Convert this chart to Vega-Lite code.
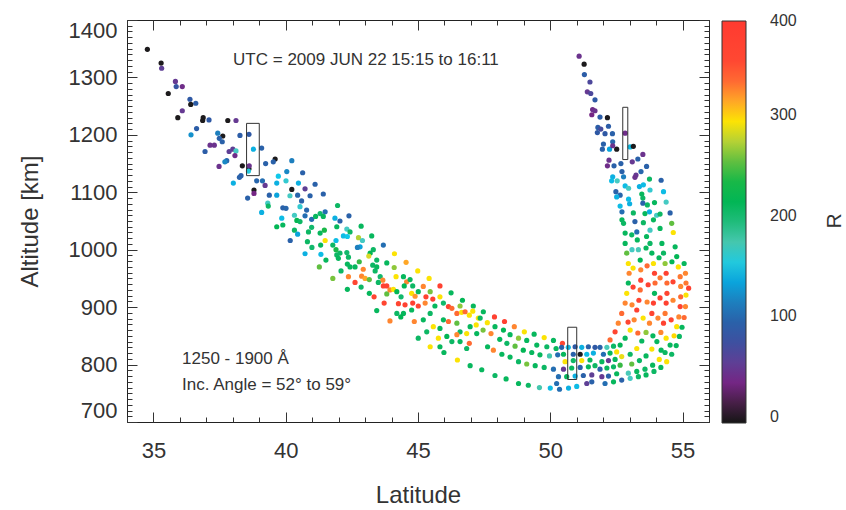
{
"$schema":"https://vega.github.io/schema/vega-lite/v6.json",
"width":582,"height":402,
"autosize":{"type":"none"},
"padding":{"left":127,"top":20,"right":137,"bottom":88},
"background":"white",
"config":{"font":"Liberation Sans","view":{"stroke":"#222","strokeWidth":1},
"axis":{"grid":false,"domain":false,"ticks":true,"tickColor":"#333","tickWidth":1,"tickOpacity":1,"labelColor":"#333","titleColor":"#333","titleFontWeight":"normal"}},
"datasets":{
"boxes":[{"lat0":38.52,"lat1":39.0,"alt0":1129,"alt1":1220},{"lat0":52.74,"lat1":52.93,"alt0":1157,"alt1":1248},{"lat0":50.66,"lat1":51.0,"alt0":774,"alt1":865}],
"notes":[{"lat":38.01,"alt":1330,"t":"UTC = 2009 JUN 22 15:15 to 16:11"},{"lat":36.08,"alt":810,"t":"1250 - 1900 Å"},{"lat":36.08,"alt":764,"t":"Inc. Angle = 52° to 59°"}],
"rlab":[{"lat":60.77,"alt":1050,"t":"R"}],
"pts":[
{"lat":34.77,"alt":1349,"R":5},{"lat":35.29,"alt":1325,"R":5},{"lat":35.31,"alt":1316,"R":60},{"lat":35.83,"alt":1293,"R":55},{"lat":35.86,"alt":1284,"R":85},{"lat":36.09,"alt":1284,"R":45},{"lat":35.56,"alt":1272,"R":5},{"lat":36.38,"alt":1262,"R":90},{"lat":36.6,"alt":1255,"R":95},{"lat":36.41,"alt":1253,"R":5},
{"lat":36.09,"alt":1242,"R":55},{"lat":35.92,"alt":1230,"R":5},{"lat":36.88,"alt":1230,"R":5},{"lat":37.1,"alt":1226,"R":90},{"lat":36.86,"alt":1225,"R":5},{"lat":37.81,"alt":1225,"R":5},{"lat":38.12,"alt":1225,"R":55},{"lat":36.63,"alt":1211,"R":95},{"lat":36.42,"alt":1200,"R":130},{"lat":37.43,"alt":1203,"R":120},
{"lat":37.62,"alt":1198,"R":5},{"lat":37.49,"alt":1194,"R":100},{"lat":38.27,"alt":1199,"R":95},{"lat":38.61,"alt":1201,"R":90},{"lat":37.14,"alt":1182,"R":50},{"lat":37.3,"alt":1182,"R":50},{"lat":37.6,"alt":1188,"R":100},{"lat":38.78,"alt":1175,"R":145},{"lat":39.09,"alt":1177,"R":100},{"lat":36.95,"alt":1171,"R":95},
{"lat":37.86,"alt":1171,"R":60},{"lat":38.0,"alt":1175,"R":60},{"lat":38.12,"alt":1172,"R":170},{"lat":38.08,"alt":1164,"R":45},{"lat":37.77,"alt":1155,"R":105},{"lat":37.7,"alt":1153,"R":125},{"lat":39.6,"alt":1158,"R":5},{"lat":39.53,"alt":1153,"R":100},{"lat":40.23,"alt":1155,"R":120},{"lat":39.24,"alt":1150,"R":100},
{"lat":37.48,"alt":1145,"R":50},{"lat":38.36,"alt":1146,"R":5},{"lat":38.61,"alt":1141,"R":5},{"lat":38.62,"alt":1146,"R":50},{"lat":38.59,"alt":1137,"R":160},{"lat":38.31,"alt":1129,"R":100},{"lat":38.25,"alt":1126,"R":100},{"lat":39.72,"alt":1128,"R":155},{"lat":40.04,"alt":1136,"R":125},{"lat":40.64,"alt":1134,"R":100},
{"lat":38.02,"alt":1116,"R":145},{"lat":38.9,"alt":1120,"R":105},{"lat":39.12,"alt":1120,"R":110},{"lat":39.22,"alt":1112,"R":55},{"lat":39.66,"alt":1116,"R":145},{"lat":40.01,"alt":1120,"R":165},{"lat":40.48,"alt":1116,"R":145},{"lat":41.11,"alt":1114,"R":100},{"lat":40.73,"alt":1106,"R":60},{"lat":40.23,"alt":1105,"R":5},
{"lat":38.8,"alt":1104,"R":5},{"lat":38.8,"alt":1098,"R":40},{"lat":38.56,"alt":1090,"R":100},{"lat":39.38,"alt":1095,"R":100},{"lat":39.66,"alt":1095,"R":140},{"lat":40.16,"alt":1094,"R":170},{"lat":40.45,"alt":1095,"R":105},{"lat":40.92,"alt":1094,"R":100},{"lat":41.42,"alt":1097,"R":100},{"lat":39.32,"alt":1081,"R":170},
{"lat":39.34,"alt":1076,"R":210},{"lat":39.09,"alt":1065,"R":145},{"lat":39.89,"alt":1073,"R":100},{"lat":40.01,"alt":1072,"R":105},{"lat":40.6,"alt":1085,"R":100},{"lat":40.33,"alt":1060,"R":170},{"lat":40.54,"alt":1075,"R":165},{"lat":40.79,"alt":1069,"R":105},{"lat":40.73,"alt":1059,"R":110},{"lat":39.85,"alt":1055,"R":150},
{"lat":39.66,"alt":1040,"R":220},{"lat":40.42,"alt":1051,"R":225},{"lat":40.54,"alt":1049,"R":210},{"lat":40.98,"alt":1053,"R":110},{"lat":41.13,"alt":1058,"R":215},{"lat":41.3,"alt":1063,"R":205},{"lat":41.49,"alt":1066,"R":110},{"lat":41.42,"alt":1058,"R":215},{"lat":39.89,"alt":1043,"R":215},{"lat":40.98,"alt":1039,"R":205},
{"lat":41.96,"alt":1077,"R":210},{"lat":42.39,"alt":1059,"R":100},{"lat":42.85,"alt":1041,"R":215},{"lat":41.86,"alt":1055,"R":145},{"lat":42.05,"alt":1050,"R":100},{"lat":41.93,"alt":1040,"R":215},{"lat":42.31,"alt":1036,"R":170},{"lat":42.43,"alt":1031,"R":210},{"lat":42.18,"alt":1024,"R":150},{"lat":42.33,"alt":1023,"R":155},
{"lat":42.75,"alt":1021,"R":280},{"lat":42.9,"alt":1016,"R":170},{"lat":43.25,"alt":1024,"R":215},{"lat":42.81,"alt":1005,"R":140},{"lat":42.71,"alt":1004,"R":120},{"lat":43.69,"alt":1008,"R":110},{"lat":43.31,"alt":1000,"R":210},{"lat":43.19,"alt":994,"R":220},{"lat":43.14,"alt":989,"R":290},{"lat":43.44,"alt":982,"R":210},
{"lat":43.82,"alt":977,"R":215},{"lat":44.11,"alt":993,"R":300},{"lat":44.55,"alt":978,"R":320},{"lat":44.99,"alt":963,"R":300},{"lat":45.42,"alt":950,"R":300},{"lat":45.83,"alt":937,"R":380},{"lat":46.25,"alt":925,"R":215},{"lat":46.68,"alt":912,"R":220},{"lat":47.09,"alt":902,"R":215},
{"lat":40.33,"alt":1034,"R":210},{"lat":40.17,"alt":1016,"R":100},{"lat":40.45,"alt":1027,"R":140},{"lat":40.86,"alt":1031,"R":210},{"lat":41.3,"alt":1029,"R":215},{"lat":41.46,"alt":1034,"R":240},{"lat":40.82,"alt":1014,"R":210},{"lat":40.99,"alt":1004,"R":205},{"lat":41.32,"alt":1008,"R":215},{"lat":41.49,"alt":1016,"R":300},
{"lat":41.9,"alt":1016,"R":150},{"lat":41.78,"alt":1008,"R":210},{"lat":40.73,"alt":993,"R":145},{"lat":41.33,"alt":992,"R":150},{"lat":41.52,"alt":982,"R":215},{"lat":41.93,"alt":991,"R":210},{"lat":41.99,"alt":985,"R":215},{"lat":42.05,"alt":994,"R":210},{"lat":41.9,"alt":1000,"R":240},{"lat":42.31,"alt":995,"R":205},
{"lat":42.37,"alt":987,"R":210},{"lat":42.43,"alt":970,"R":215},{"lat":41.27,"alt":970,"R":260},{"lat":41.78,"alt":950,"R":265},{"lat":42.09,"alt":963,"R":210},{"lat":42.33,"alt":975,"R":215},{"lat":42.62,"alt":970,"R":215},{"lat":42.78,"alt":979,"R":250},{"lat":42.93,"alt":966,"R":330},{"lat":42.37,"alt":953,"R":330},
{"lat":42.33,"alt":931,"R":215},{"lat":42.87,"alt":954,"R":330},{"lat":43.0,"alt":950,"R":320},{"lat":42.62,"alt":943,"R":370},{"lat":42.85,"alt":935,"R":210},{"lat":43.16,"alt":948,"R":260},{"lat":43.29,"alt":973,"R":210},{"lat":43.44,"alt":970,"R":215},{"lat":43.38,"alt":963,"R":210},{"lat":43.57,"alt":953,"R":205},
{"lat":43.67,"alt":947,"R":330},{"lat":43.82,"alt":937,"R":380},{"lat":43.69,"alt":937,"R":380},{"lat":43.5,"alt":943,"R":210},{"lat":43.16,"alt":924,"R":215},{"lat":43.34,"alt":918,"R":370},{"lat":43.44,"alt":894,"R":215},{"lat":43.72,"alt":907,"R":370},{"lat":43.82,"alt":923,"R":260},{"lat":43.94,"alt":930,"R":330},
{"lat":44.07,"alt":931,"R":300},{"lat":44.2,"alt":927,"R":220},{"lat":44.1,"alt":969,"R":270},{"lat":44.17,"alt":953,"R":300},{"lat":44.45,"alt":953,"R":215},{"lat":44.57,"alt":944,"R":330},{"lat":44.7,"alt":948,"R":215},{"lat":44.8,"alt":937,"R":210},{"lat":44.48,"alt":937,"R":220},{"lat":44.36,"alt":918,"R":205},
{"lat":44.26,"alt":906,"R":370},{"lat":44.51,"alt":904,"R":380},{"lat":44.76,"alt":924,"R":300},{"lat":44.89,"alt":919,"R":325},{"lat":45.01,"alt":927,"R":215},{"lat":45.2,"alt":936,"R":330},{"lat":45.46,"alt":927,"R":265},{"lat":45.83,"alt":918,"R":300},{"lat":45.56,"alt":914,"R":380},{"lat":45.3,"alt":918,"R":375},
{"lat":45.27,"alt":907,"R":330},{"lat":45.01,"alt":902,"R":370},{"lat":44.8,"alt":907,"R":380},{"lat":44.76,"alt":895,"R":215},{"lat":44.45,"alt":889,"R":215},{"lat":44.2,"alt":889,"R":210},{"lat":43.94,"alt":876,"R":330},{"lat":44.35,"alt":883,"R":220},{"lat":44.86,"alt":875,"R":330},{"lat":45.2,"alt":878,"R":215},
{"lat":45.46,"alt":889,"R":210},{"lat":45.64,"alt":902,"R":215},{"lat":45.96,"alt":907,"R":205},{"lat":46.15,"alt":901,"R":380},{"lat":46.28,"alt":898,"R":340},{"lat":46.47,"alt":889,"R":340},{"lat":46.65,"alt":891,"R":300},{"lat":46.78,"alt":892,"R":340},{"lat":46.59,"alt":902,"R":270},{"lat":47.07,"alt":893,"R":300},
{"lat":46.94,"alt":886,"R":300},{"lat":47.28,"alt":881,"R":300},{"lat":47.2,"alt":869,"R":300},{"lat":47.22,"alt":854,"R":215},{"lat":46.97,"alt":866,"R":215},{"lat":46.84,"alt":854,"R":300},{"lat":46.59,"alt":857,"R":210},{"lat":46.47,"alt":872,"R":260},{"lat":46.15,"alt":875,"R":340},{"lat":45.96,"alt":878,"R":215},
{"lat":45.83,"alt":863,"R":215},{"lat":45.58,"alt":866,"R":300},{"lat":45.33,"alt":857,"R":210},{"lat":45.77,"alt":846,"R":300},{"lat":46.09,"alt":849,"R":220},{"lat":46.28,"alt":840,"R":210},{"lat":46.47,"alt":852,"R":330},{"lat":46.59,"alt":840,"R":215},{"lat":46.94,"alt":837,"R":340},{"lat":45.01,"alt":846,"R":210},
{"lat":45.46,"alt":831,"R":300},{"lat":45.83,"alt":831,"R":215},{"lat":46.84,"alt":828,"R":210},
{"lat":47.47,"alt":892,"R":215},{"lat":47.89,"alt":883,"R":380},{"lat":48.27,"alt":875,"R":380},{"lat":48.64,"alt":866,"R":330},{"lat":49.02,"alt":857,"R":300},{"lat":49.39,"alt":853,"R":215},{"lat":49.77,"alt":847,"R":300},{"lat":50.12,"alt":842,"R":215},{"lat":50.46,"alt":837,"R":360},
{"lat":47.35,"alt":881,"R":210},{"lat":47.62,"alt":873,"R":300},{"lat":47.91,"alt":866,"R":215},{"lat":48.23,"alt":860,"R":220},{"lat":48.48,"alt":852,"R":215},{"lat":48.8,"alt":846,"R":270},{"lat":49.11,"alt":842,"R":215},{"lat":49.49,"alt":834,"R":215},{"lat":49.87,"alt":831,"R":210},{"lat":50.22,"alt":828,"R":215},
{"lat":47.46,"alt":860,"R":265},{"lat":47.76,"alt":854,"R":330},{"lat":48.09,"alt":844,"R":215},{"lat":48.36,"alt":837,"R":210},{"lat":48.67,"alt":832,"R":260},{"lat":48.98,"alt":825,"R":220},{"lat":49.3,"alt":821,"R":215},{"lat":49.61,"alt":817,"R":215},{"lat":49.97,"alt":815,"R":180},{"lat":50.28,"alt":817,"R":110},
{"lat":47.63,"alt":831,"R":215},{"lat":47.85,"alt":825,"R":330},{"lat":48.17,"alt":818,"R":215},{"lat":48.48,"alt":813,"R":215},{"lat":48.8,"alt":805,"R":210},{"lat":49.11,"alt":801,"R":265},{"lat":49.43,"alt":798,"R":215},{"lat":49.77,"alt":795,"R":210},{"lat":50.12,"alt":792,"R":110},
{"lat":46.97,"alt":798,"R":215},{"lat":47.41,"alt":791,"R":215},{"lat":47.91,"alt":781,"R":210},{"lat":48.33,"alt":775,"R":215},{"lat":48.8,"alt":767,"R":215},{"lat":49.17,"alt":764,"R":210},{"lat":49.59,"alt":760,"R":180},{"lat":50.0,"alt":759,"R":150},{"lat":50.35,"alt":757,"R":110},{"lat":50.69,"alt":759,"R":145},
{"lat":51.0,"alt":762,"R":150},{"lat":51.38,"alt":767,"R":60},{"lat":51.57,"alt":770,"R":100},{"lat":46.49,"alt":808,"R":300},{"lat":45.98,"alt":821,"R":215},{"lat":50.31,"alt":779,"R":110},{"lat":50.24,"alt":767,"R":110},
{"lat":50.43,"alt":830,"R":100},{"lat":50.68,"alt":830,"R":150},{"lat":50.94,"alt":831,"R":90},{"lat":51.19,"alt":830,"R":145},{"lat":51.44,"alt":831,"R":100},{"lat":51.69,"alt":830,"R":90},{"lat":50.5,"alt":818,"R":215},{"lat":50.87,"alt":818,"R":100},{"lat":51.13,"alt":818,"R":5},{"lat":51.38,"alt":818,"R":150},
{"lat":51.63,"alt":820,"R":145},{"lat":50.56,"alt":805,"R":300},{"lat":50.87,"alt":807,"R":210},{"lat":51.19,"alt":807,"R":300},{"lat":51.5,"alt":808,"R":215},{"lat":50.5,"alt":792,"R":55},{"lat":50.81,"alt":794,"R":215},{"lat":51.13,"alt":795,"R":100},{"lat":51.44,"alt":796,"R":215},{"lat":51.69,"alt":798,"R":210},
{"lat":50.62,"alt":779,"R":215},{"lat":50.94,"alt":780,"R":145},{"lat":51.25,"alt":781,"R":100},{"lat":51.57,"alt":782,"R":60},
{"lat":51.88,"alt":830,"R":100},{"lat":52.14,"alt":830,"R":175},{"lat":52.39,"alt":832,"R":210},{"lat":52.01,"alt":818,"R":110},{"lat":52.26,"alt":820,"R":215},{"lat":52.51,"alt":822,"R":300},{"lat":51.95,"alt":805,"R":215},{"lat":52.2,"alt":807,"R":55},{"lat":52.45,"alt":809,"R":215},{"lat":52.7,"alt":814,"R":295},
{"lat":51.88,"alt":792,"R":100},{"lat":52.14,"alt":794,"R":215},{"lat":52.39,"alt":796,"R":210},{"lat":52.64,"alt":799,"R":250},{"lat":51.95,"alt":779,"R":55},{"lat":52.2,"alt":780,"R":100},{"lat":52.51,"alt":784,"R":215},
{"lat":52.83,"alt":1011,"R":215},{"lat":52.89,"alt":994,"R":260},{"lat":52.95,"alt":976,"R":300},{"lat":52.98,"alt":959,"R":330},{"lat":52.95,"alt":942,"R":215},{"lat":52.89,"alt":924,"R":300},{"lat":52.83,"alt":907,"R":330},{"lat":52.7,"alt":889,"R":340},{"lat":52.57,"alt":872,"R":330},{"lat":52.45,"alt":857,"R":370},{"lat":52.26,"alt":843,"R":340},
{"lat":53.29,"alt":1017,"R":215},{"lat":53.33,"alt":1000,"R":175},{"lat":53.4,"alt":982,"R":220},{"lat":53.42,"alt":965,"R":330},{"lat":53.42,"alt":947,"R":370},{"lat":53.4,"alt":930,"R":340},{"lat":53.35,"alt":912,"R":375},{"lat":53.27,"alt":895,"R":380},{"lat":53.17,"alt":878,"R":330},{"lat":53.02,"alt":860,"R":300},{"lat":52.83,"alt":846,"R":215},{"lat":52.64,"alt":834,"R":220},
{"lat":53.77,"alt":1011,"R":210},{"lat":53.84,"alt":994,"R":215},{"lat":53.9,"alt":976,"R":300},{"lat":53.94,"alt":959,"R":375},{"lat":53.96,"alt":942,"R":340},{"lat":53.94,"alt":924,"R":215},{"lat":53.9,"alt":907,"R":380},{"lat":53.84,"alt":889,"R":370},{"lat":53.75,"alt":872,"R":330},{"lat":53.62,"alt":856,"R":270},{"lat":53.46,"alt":841,"R":215},{"lat":53.27,"alt":828,"R":300},{"lat":53.02,"alt":818,"R":210},
{"lat":54.22,"alt":1011,"R":215},{"lat":54.28,"alt":994,"R":210},{"lat":54.34,"alt":976,"R":270},{"lat":54.38,"alt":959,"R":380},{"lat":54.41,"alt":942,"R":340},{"lat":54.41,"alt":924,"R":370},{"lat":54.38,"alt":907,"R":380},{"lat":54.34,"alt":889,"R":335},{"lat":54.28,"alt":872,"R":375},{"lat":54.18,"alt":856,"R":330},{"lat":54.03,"alt":840,"R":215},{"lat":53.84,"alt":827,"R":300},{"lat":53.62,"alt":815,"R":215},{"lat":53.37,"alt":807,"R":210},{"lat":53.08,"alt":801,"R":260},
{"lat":54.72,"alt":1005,"R":215},{"lat":54.78,"alt":988,"R":220},{"lat":54.84,"alt":970,"R":300},{"lat":54.91,"alt":953,"R":335},{"lat":54.93,"alt":936,"R":330},{"lat":54.93,"alt":918,"R":340},{"lat":54.91,"alt":901,"R":375},{"lat":54.86,"alt":883,"R":330},{"lat":54.78,"alt":866,"R":300},{"lat":54.68,"alt":850,"R":305},{"lat":54.53,"alt":834,"R":215},{"lat":54.34,"alt":821,"R":210},{"lat":54.12,"alt":809,"R":300},{"lat":53.87,"alt":799,"R":215},{"lat":53.58,"alt":792,"R":210},{"lat":53.27,"alt":788,"R":215},{"lat":52.95,"alt":785,"R":175},
{"lat":55.06,"alt":976,"R":215},{"lat":55.11,"alt":959,"R":330},{"lat":55.13,"alt":942,"R":335},{"lat":55.13,"alt":921,"R":300},{"lat":55.11,"alt":901,"R":330},{"lat":55.06,"alt":882,"R":340},{"lat":54.98,"alt":865,"R":215},{"lat":54.88,"alt":849,"R":210},{"lat":54.76,"alt":833,"R":215},{"lat":54.59,"alt":818,"R":210},{"lat":54.4,"alt":805,"R":300},{"lat":54.18,"alt":795,"R":215},{"lat":53.92,"alt":788,"R":210},{"lat":53.62,"alt":782,"R":215},{"lat":53.33,"alt":779,"R":210},{"lat":53.02,"alt":776,"R":170},{"lat":52.7,"alt":773,"R":100},{"lat":52.39,"alt":770,"R":215},{"lat":52.07,"alt":767,"R":110},
{"lat":53.09,"alt":1000,"R":170},{"lat":53.13,"alt":968,"R":300},{"lat":53.13,"alt":935,"R":375},{"lat":53.09,"alt":904,"R":330},{"lat":52.94,"alt":874,"R":370},{"lat":53.62,"alt":1003,"R":215},{"lat":53.66,"alt":972,"R":340},{"lat":53.7,"alt":939,"R":380},{"lat":53.66,"alt":909,"R":330},{"lat":53.51,"alt":881,"R":300},{"lat":53.31,"alt":855,"R":340},
{"lat":54.11,"alt":986,"R":215},{"lat":54.15,"alt":951,"R":335},{"lat":54.15,"alt":916,"R":380},{"lat":54.07,"alt":881,"R":330},{"lat":53.88,"alt":850,"R":215},{"lat":54.6,"alt":979,"R":220},{"lat":54.64,"alt":944,"R":370},{"lat":54.64,"alt":912,"R":330},{"lat":54.57,"alt":878,"R":370},{"lat":54.38,"alt":846,"R":300},{"lat":54.19,"alt":825,"R":215},{"lat":55.23,"alt":933,"R":380},
{"lat":51.09,"alt":1337,"R":50},{"lat":51.28,"alt":1323,"R":5},{"lat":51.29,"alt":1305,"R":95},{"lat":51.5,"alt":1292,"R":70},{"lat":51.4,"alt":1275,"R":55},{"lat":51.53,"alt":1272,"R":70},{"lat":51.69,"alt":1261,"R":90},{"lat":51.6,"alt":1244,"R":45},{"lat":51.69,"alt":1242,"R":50},{"lat":51.57,"alt":1235,"R":40},
{"lat":51.88,"alt":1231,"R":95},{"lat":52.16,"alt":1230,"R":5},{"lat":51.8,"alt":1213,"R":95},{"lat":51.91,"alt":1210,"R":75},{"lat":52.2,"alt":1215,"R":95},{"lat":51.78,"alt":1204,"R":90},{"lat":52.07,"alt":1202,"R":90},{"lat":52.35,"alt":1202,"R":100},{"lat":52.36,"alt":1188,"R":105},{"lat":52.01,"alt":1184,"R":100},
{"lat":51.97,"alt":1175,"R":100},{"lat":52.24,"alt":1175,"R":140},{"lat":52.51,"alt":1175,"R":5},{"lat":52.36,"alt":1181,"R":50},{"lat":52.83,"alt":1203,"R":45},{"lat":53.02,"alt":1179,"R":150},{"lat":53.14,"alt":1180,"R":5},{"lat":53.5,"alt":1166,"R":50},{"lat":53.31,"alt":1158,"R":100},{"lat":53.1,"alt":1153,"R":55},
{"lat":52.22,"alt":1156,"R":50},{"lat":52.16,"alt":1146,"R":45},{"lat":52.41,"alt":1146,"R":100},{"lat":52.67,"alt":1150,"R":100},{"lat":52.71,"alt":1136,"R":100},{"lat":52.77,"alt":1127,"R":120},{"lat":53.43,"alt":1136,"R":105},{"lat":53.64,"alt":1145,"R":100},{"lat":53.24,"alt":1130,"R":55},{"lat":53.2,"alt":1126,"R":50},
{"lat":52.36,"alt":1127,"R":145},{"lat":52.32,"alt":1120,"R":150},{"lat":52.53,"alt":1120,"R":170},{"lat":52.83,"alt":1111,"R":150},{"lat":52.96,"alt":1107,"R":170},{"lat":53.37,"alt":1110,"R":145},{"lat":53.52,"alt":1113,"R":150},{"lat":53.75,"alt":1123,"R":210},{"lat":54.19,"alt":1121,"R":100},{"lat":52.48,"alt":1101,"R":100},
{"lat":52.64,"alt":1095,"R":105},{"lat":52.51,"alt":1092,"R":145},{"lat":52.96,"alt":1088,"R":150},{"lat":53.0,"alt":1080,"R":145},{"lat":53.46,"alt":1097,"R":215},{"lat":53.5,"alt":1090,"R":210},{"lat":53.5,"alt":1081,"R":100},{"lat":53.77,"alt":1104,"R":165},{"lat":53.94,"alt":1082,"R":215},{"lat":53.67,"alt":1078,"R":210},
{"lat":54.28,"alt":1101,"R":150},{"lat":54.38,"alt":1083,"R":170},{"lat":52.64,"alt":1076,"R":150},{"lat":52.71,"alt":1066,"R":110},{"lat":53.14,"alt":1064,"R":210},{"lat":53.58,"alt":1063,"R":215},{"lat":53.75,"alt":1066,"R":145},{"lat":54.02,"alt":1060,"R":170},{"lat":54.15,"alt":1062,"R":210},{"lat":54.53,"alt":1064,"R":100},
{"lat":53.9,"alt":1052,"R":215},{"lat":53.52,"alt":1047,"R":210},{"lat":53.2,"alt":1049,"R":100},{"lat":52.71,"alt":1052,"R":215},{"lat":52.77,"alt":1046,"R":210},{"lat":54.59,"alt":1046,"R":260},{"lat":54.65,"alt":1030,"R":300},{"lat":54.15,"alt":1037,"R":215},{"lat":53.77,"alt":1034,"R":170},{"lat":53.27,"alt":1031,"R":110},
{"lat":52.83,"alt":1029,"R":215},{"lat":53.08,"alt":1026,"R":210},{"lat":53.64,"alt":1023,"R":215}
]},
"layer":[
{"data":{"name":"pts"},
"mark":{"type":"circle","size":27,"opacity":1},
"encoding":{
"x":{"field":"lat","type":"quantitative","scale":{"domain":[34,56],"nice":false,"zero":false},
"axis":{"orient":"bottom","offset":-10,"ticks":true,"tickSize":10,"values":[35,40,45,50,55],"format":"d","labelFlush":false,"labelOverlap":false,"labelFontSize":22,"labelPadding":18,"title":"Latitude","titleFontSize":24,"titleBaseline":"middle","titleY":83}},
"y":{"field":"alt","type":"quantitative","scale":{"domain":[700,1400],"nice":false,"zero":false},
"axis":{"orient":"left","offset":-10,"ticks":true,"tickSize":10,"values":[700,800,900,1000,1100,1200,1300,1400],"format":"d","labelFlush":true,"labelOverlap":false,"labelFontSize":22,"labelPadding":10,"title":"Altitude [km]","titleFontSize":24,"titleBaseline":"middle","titleX":-107}},
"color":{"field":"R","type":"quantitative",
"scale":{"type":"linear","interpolate":"rgb","domain":[0,12,25,40,55,72,90,105,122,140,155,172,190,205,222,240,255,272,288,301,312,322,332,342,355,400],
"range":["#151515","#262026","#5c1f5c","#742684","#663a92","#4a4a9c","#2e58a4","#2866ac","#1c82c0","#0aa4dc","#10c8ea","#4ccabe","#3cc49a","#12b86c","#00b652","#18b848","#48ba42","#98ca3a","#d2d830","#ffe400","#ffc400","#ffa030","#ff8030","#ff6432","#ff4a32","#ff3a30"]},
"legend":{"orient":"none","legendX":595,"legendY":1,"direction":"vertical","gradientLength":402,"gradientThickness":24,"gradientStrokeColor":"#333","gradientStrokeWidth":1,"title":null,"values":[6,106,206,306,399.9],"labelExpr":"format(round(datum.value/100)*100,'d')","labelFontSize":16,"labelColor":"#333","labelOffset":24,"labelOverlap":false,"padding":0}}
}},
{"data":{"name":"boxes"},
"mark":{"type":"rect","fill":"transparent","stroke":"#333","strokeWidth":1},
"encoding":{
"x":{"field":"lat0","type":"quantitative","scale":{"domain":[34,56],"nice":false,"zero":false},
"axis":{"orient":"bottom","offset":-5,"ticks":true,"tickSize":5,"values":[34,35,36,37,38,39,40,41,42,43,44,45,46,47,48,49,50,51,52,53,54,55,56],"labels":false,"title":null}},
"x2":{"field":"lat1"},
"y":{"field":"alt0","type":"quantitative","scale":{"domain":[700,1400],"nice":false,"zero":false},
"axis":{"orient":"left","offset":-5,"ticks":true,"tickSize":5,"values":[700,710,720,730,740,750,760,770,780,790,800,810,820,830,840,850,860,870,880,890,900,910,920,930,940,950,960,970,980,990,1000,1010,1020,1030,1040,1050,1060,1070,1080,1090,1100,1110,1120,1130,1140,1150,1160,1170,1180,1190,1200,1210,1220,1230,1240,1250,1260,1270,1280,1290,1300,1310,1320,1330,1340,1350,1360,1370,1380,1390,1400],"labels":false,"title":null}},
"y2":{"field":"alt1"}
}},
{"data":{"name":"notes"},
"mark":{"type":"text","align":"left","baseline":"middle","fontSize":17,"color":"#333"},
"encoding":{
"x":{"field":"lat","type":"quantitative","scale":{"domain":[34,56],"nice":false,"zero":false},
"axis":{"orient":"top","offset":-10,"ticks":true,"tickSize":10,"values":[35,40,45,50,55],"labels":false,"title":null}},
"y":{"field":"alt","type":"quantitative","scale":{"domain":[700,1400],"nice":false,"zero":false},
"axis":{"orient":"right","offset":-10,"ticks":true,"tickSize":10,"values":[700,800,900,1000,1100,1200,1300,1400],"labels":false,"title":null}},
"text":{"field":"t"}
}},
{"data":{"name":"rlab"},
"mark":{"type":"text","align":"center","baseline":"middle","fontSize":21,"angle":270,"color":"#333"},
"encoding":{
"x":{"field":"lat","type":"quantitative","scale":{"domain":[34,56],"nice":false,"zero":false},
"axis":{"orient":"top","offset":-5,"ticks":true,"tickSize":5,"values":[34,35,36,37,38,39,40,41,42,43,44,45,46,47,48,49,50,51,52,53,54,55,56],"labels":false,"title":null}},
"y":{"field":"alt","type":"quantitative","scale":{"domain":[700,1400],"nice":false,"zero":false},
"axis":{"orient":"right","offset":-5,"ticks":true,"tickSize":5,"values":[700,710,720,730,740,750,760,770,780,790,800,810,820,830,840,850,860,870,880,890,900,910,920,930,940,950,960,970,980,990,1000,1010,1020,1030,1040,1050,1060,1070,1080,1090,1100,1110,1120,1130,1140,1150,1160,1170,1180,1190,1200,1210,1220,1230,1240,1250,1260,1270,1280,1290,1300,1310,1320,1330,1340,1350,1360,1370,1380,1390,1400],"labels":false,"title":null}},
"text":{"field":"t"}
}}
],
"resolve":{"axis":{"x":"independent","y":"independent"}}
}
